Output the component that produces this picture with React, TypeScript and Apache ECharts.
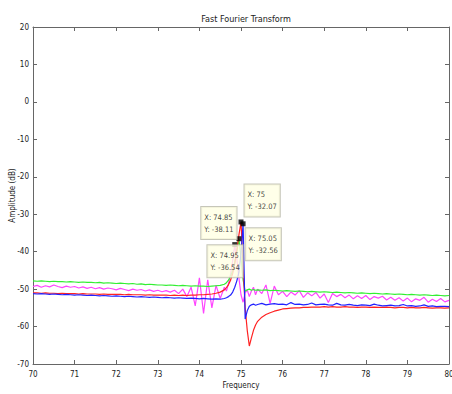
import React, { useEffect, useRef } from "react";
import * as echarts from "echarts";

const freq = [
  70, 70.1, 70.2, 70.3, 70.4, 70.5, 70.6, 70.7, 70.8, 70.9,
  71, 71.1, 71.2, 71.3, 71.4, 71.5, 71.6, 71.7, 71.8, 71.9,
  72, 72.1, 72.2, 72.3, 72.4, 72.5, 72.6, 72.7, 72.8, 72.9,
  73, 73.1, 73.2, 73.3, 73.4, 73.5, 73.6, 73.7, 73.8, 73.9,
  74, 74.1, 74.2, 74.3, 74.4, 74.5, 74.6,
  74.65, 74.7, 74.75, 74.8, 74.85, 74.9, 74.95, 75, 75.05, 75.1, 75.15, 75.2, 75.25, 75.3, 75.35, 75.4,
  75.5, 75.6, 75.7, 75.8, 75.9,
  76, 76.1, 76.2, 76.3, 76.4, 76.5, 76.6, 76.7, 76.8, 76.9,
  77, 77.1, 77.2, 77.3, 77.4, 77.5, 77.6, 77.7, 77.8, 77.9,
  78, 78.1, 78.2, 78.3, 78.4, 78.5, 78.6, 78.7, 78.8, 78.9,
  79, 79.1, 79.2, 79.3, 79.4, 79.5, 79.6, 79.7, 79.8, 79.9,
  80,
];

const greenDb = [
  -47.8, -47.9, -47.8, -47.9, -48.0, -47.9, -48.0, -48.0, -48.1, -48.0,
  -48.1, -48.2, -48.1, -48.2, -48.2, -48.3, -48.2, -48.4, -48.3, -48.4,
  -48.5, -48.4, -48.5, -48.6, -48.5, -48.7, -48.6, -48.8, -48.7, -48.8,
  -48.9, -48.9, -49.0, -48.9, -49.0, -49.1, -49.0, -49.1, -49.2, -49.1,
  -49.2, -49.2, -49.3, -49.2, -49.1, -49.0, -48.7,
  -48.3, -47.6, -46.6, -45.0, -42.8, -40.0, -36.54, -41.5, -47.5, -50.6, -50.2, -50.0, -50.3, -50.1, -50.3, -50.2,
  -50.3, -50.2, -50.4, -50.3, -50.4,
  -50.5, -50.4, -50.5, -50.6, -50.5, -50.6, -50.7, -50.6, -50.7, -50.8,
  -50.7, -50.8, -50.9, -50.8, -50.9, -51.0, -50.9, -51.0, -51.1, -51.0,
  -51.1, -51.2, -51.1, -51.2, -51.3, -51.2, -51.3, -51.4, -51.3, -51.4,
  -51.5, -51.4, -51.5, -51.6, -51.5, -51.6, -51.7, -51.6, -51.7, -51.8,
  -51.7,
];

const redDb = [
  -51.0, -51.0, -51.1, -51.0, -51.1, -51.1, -51.2, -51.1, -51.2, -51.2,
  -51.2, -51.3, -51.2, -51.3, -51.3, -51.3, -51.4, -51.3, -51.4, -51.4,
  -51.4, -51.4, -51.5, -51.4, -51.5, -51.5, -51.5, -51.6, -51.5, -51.6,
  -51.6, -51.6, -51.6, -51.7, -51.6, -51.7, -51.6, -51.7, -51.6, -51.6,
  -51.5, -51.5, -51.4, -51.3, -51.1, -50.8, -50.2,
  -49.6, -48.8, -47.6, -45.8, -43.2, -39.6, -35.5, -32.07, -44.0, -55.0, -61.0, -65.2, -63.0, -61.0, -59.6, -58.6,
  -57.5, -56.8, -56.3, -55.9, -55.6,
  -55.3, -55.2, -55.1, -55.0, -55.0, -54.9, -54.9, -54.8, -54.8, -54.8,
  -54.7, -54.8, -54.7, -54.8, -54.8, -54.7, -54.8, -54.8, -54.9, -54.8,
  -54.8, -54.9, -54.8, -54.9, -54.9, -54.8, -54.9, -55.0, -54.9, -54.9,
  -55.0, -54.9, -55.0, -55.0, -54.9, -55.0, -55.1, -55.0, -55.0, -55.1,
  -55.0,
];

const blueDb = [
  -51.2, -51.3, -51.2, -51.3, -51.4, -51.3, -51.4, -51.5, -51.4, -51.5,
  -51.6, -51.5, -51.6, -51.7, -51.6, -51.7, -51.8, -51.7, -51.8, -51.9,
  -51.8, -51.9, -52.0, -51.9, -52.0, -52.1, -52.0, -52.1, -52.2, -52.1,
  -52.2, -52.3, -52.2, -52.3, -52.4, -52.3, -52.4, -52.5, -52.4, -52.5,
  -52.6, -52.5, -52.6, -52.7, -52.6, -52.7, -52.5,
  -52.3, -52.0, -51.6, -50.8, -49.5, -47.8, -45.5, -40.5, -32.56, -58.0, -55.8, -54.6, -54.2, -54.0, -54.3, -54.1,
  -53.8, -54.2, -54.0, -53.9, -54.1,
  -54.0, -54.2, -53.6, -54.1, -54.0, -54.2, -54.1, -53.7, -54.2, -54.1,
  -54.0, -54.2, -54.3, -53.8, -54.2, -54.3, -54.1, -54.3, -54.4, -54.2,
  -54.3, -54.4, -54.0, -54.3, -54.5, -54.4, -54.3, -54.5, -54.4, -54.1,
  -54.5, -54.4, -54.6, -54.5, -54.2, -54.6, -54.5, -54.7, -54.6, -54.6,
  -54.7,
];

const magentaDb = [
  -49.3, -49.0, -49.5, -49.1, -49.4, -48.9, -49.3, -49.6, -49.2, -49.5,
  -49.3, -49.7, -49.4, -49.8, -49.5, -49.9, -49.6, -50.0, -49.7, -49.9,
  -50.2, -49.8, -50.1, -50.4, -50.0, -50.3, -50.1, -50.5, -50.2, -50.6,
  -50.3, -50.7, -50.4, -50.8, -50.3, -51.2, -50.0, -52.0, -49.5, -54.5,
  -47.0, -56.5, -47.5, -55.0, -49.0, -52.5, -49.5,
  -50.5, -48.5, -46.0, -42.5, -38.11, -42.0, -47.0, -51.5, -53.5, -51.0, -50.2, -52.0, -50.5, -49.5, -51.5, -50.0,
  -51.2, -48.9, -53.8, -49.2, -51.5,
  -50.6, -52.0, -50.8, -51.6, -50.4, -52.2, -51.0, -51.8, -50.9, -52.4,
  -51.3, -53.6, -51.2, -52.0, -51.4, -52.3, -51.6, -52.6, -51.8, -52.5,
  -51.7, -52.8, -52.0, -52.4, -51.9, -52.9, -52.2, -53.0, -52.3, -53.2,
  -52.4, -53.4, -52.6, -53.0, -52.2, -53.5, -52.7, -53.3, -52.5, -53.4,
  -53.0,
];

const tipX = [74.85, 74.95, 75, 75.05];
const tipY = [-38.11, -36.54, -32.07, -32.56];
const tipOffsets = [
  [-31, -35],
  [-29, 9],
  [6, -35],
  [5, 7],
];

const FONT = "'Liberation Sans Narrow', 'Arial Narrow', 'DejaVu Sans Condensed', 'Liberation Sans', sans-serif";
const AXIS_COLOR = "#666";

function pairs(ys: number[]) {
  return freq.map((f, i) => [f, ys[i]]);
}

export default function App() {
  const ref = useRef<HTMLDivElement>(null);
  useEffect(() => {
    if (!ref.current) return;
    const chart = echarts.init(ref.current, undefined, { renderer: "svg" });
    const axisCommon = {
      axisLine: { show: true, onZero: false, lineStyle: { color: AXIS_COLOR, width: 1 } },
      axisTick: { show: true, inside: true, length: 4, lineStyle: { color: AXIS_COLOR } },
      splitLine: { show: false },
    };
    const labelStyle = { fontSize: 8, color: "#222", fontFamily: FONT };
    const lineSeries = (name: string, ys: number[], color: string) => ({
      name,
      type: "line",
      data: pairs(ys),
      showSymbol: false,
      symbol: "none",
      lineStyle: { color, width: 1.2 },
      itemStyle: { color },
      z: 2,
    });
    chart.setOption({
      animation: false,
      backgroundColor: "#ffffff",
      title: {
        text: "Fast Fourier Transform",
        left: 241,
        textAlign: "center",
        top: 9,
        textStyle: { fontSize: 9, fontWeight: "normal", color: "#222", fontFamily: FONT },
      },
      grid: { left: 33, top: 27, width: 416, height: 337, containLabel: false, outerBoundsMode: "none" },
      xAxis: [
        {
          type: "value",
          min: 70,
          max: 80,
          interval: 1,
          position: "bottom",
          name: "Frequency",
          nameLocation: "middle",
          nameGap: 17,
          nameMoveOverlap: false,
          nameTextStyle: { ...labelStyle },
          axisLabel: { ...labelStyle, margin: 6 },
          ...axisCommon,
        },
        {
          type: "value",
          min: 70,
          max: 80,
          interval: 1,
          position: "top",
          axisLabel: { show: false },
          ...axisCommon,
        },
      ],
      yAxis: [
        {
          type: "value",
          min: -70,
          max: 20,
          interval: 10,
          position: "left",
          name: "Amplitude (dB)",
          nameLocation: "middle",
          nameGap: 17,
          nameRotate: 90,
          nameMoveOverlap: false,
          nameTextStyle: { ...labelStyle },
          axisLabel: { ...labelStyle, margin: 4 },
          ...axisCommon,
        },
        {
          type: "value",
          min: -70,
          max: 20,
          interval: 10,
          position: "right",
          axisLabel: { show: false },
          ...axisCommon,
        },
      ],
      series: [
        lineSeries("magenta", magentaDb, "#ff44ff"),
        lineSeries("green", greenDb, "#33ee33"),
        lineSeries("red", redDb, "#ff2222"),
        lineSeries("blue", blueDb, "#2222ff"),
        {
          name: "tips",
          type: "scatter",
          symbol: "rect",
          symbolSize: 5,
          z: 10,
          itemStyle: { color: "#000" },
          data: tipX.map((x, i) => ({
            value: [x, tipY[i]],
            label: {
              show: true,
              position: tipOffsets[i],
              formatter: `X: ${x}\nY: ${tipY[i]}`,
              fontSize: 7.5,
              lineHeight: 12,
              color: "#111",
              fontFamily: FONT,
              backgroundColor: "#ffffe4",
              borderColor: "#b8b8a8",
              borderWidth: 1,
              padding: [4, 3, 4, 3],
            },
          })),
        },
      ],
    });
    return () => chart.dispose();
  }, []);
  return (
    <div
      ref={ref}
      style={{ position: "absolute", left: 0, top: 0, width: 452, height: 394 }}
    />
  );
}
